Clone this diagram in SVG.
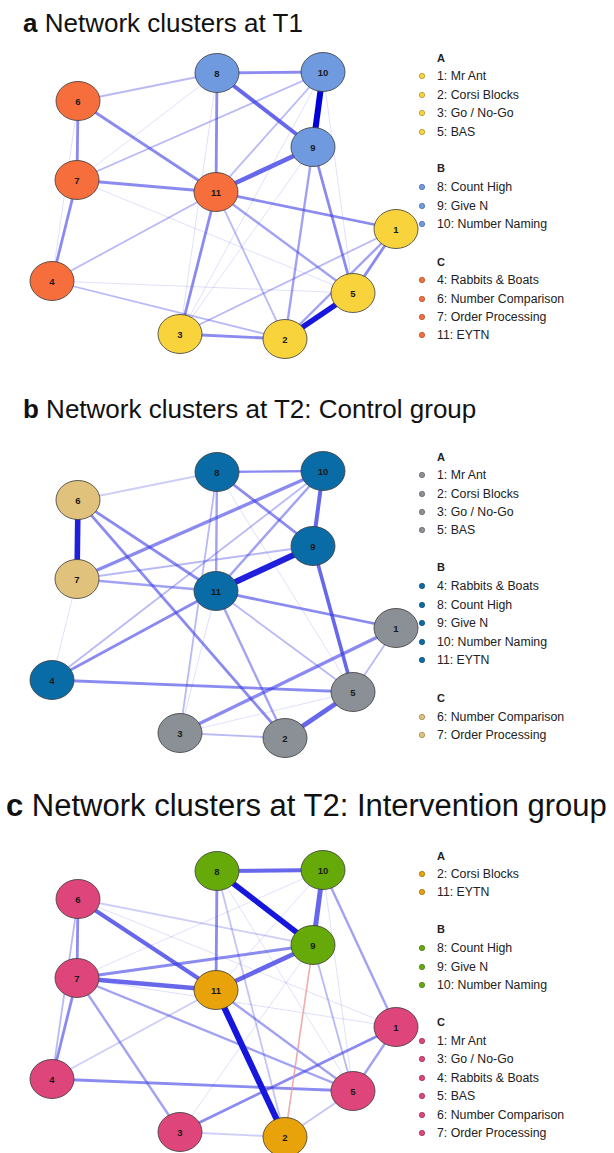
<svg xmlns="http://www.w3.org/2000/svg" width="614" height="1153" viewBox="0 0 614 1153">
<style>
text{font-family:"Liberation Sans",Arial,sans-serif;fill:#111}
.title{font-size:26px}
.lg{font-size:12.3px;fill:#222}
.hd{font-size:11px;font-weight:bold;fill:#222}
.nl{font-size:9.5px;font-weight:bold;text-anchor:middle;fill:#1a1a1a}
ellipse{stroke:#3a3a3a;stroke-width:0.8}
.dot{stroke-width:0.6}
.e line{stroke:#3c3ce6;fill:none}
.e .w1{stroke-width:1;stroke-opacity:.16}
.e .w2{stroke-width:1.8;stroke-opacity:.36}
.e .w2b{stroke-width:2.4;stroke-opacity:.48}
.e .w3{stroke-width:2.8;stroke-opacity:.6}
.e .w4{stroke-width:4;stroke-opacity:.78}
.e .w5{stroke-width:5.6;stroke:#1616dc;stroke-opacity:1}
.e .neg{stroke:#e89898;stroke-width:1.6;stroke-opacity:.8}
.ya{fill:#f9d33c}.ba{fill:#6f9ae0}.oa{fill:#f56e3c}
.gb{fill:#8b9096}.db{fill:#0a6ca6}.tb{fill:#e1c27c}
.gc{fill:#66aa0a}.ac{fill:#e8a20a}.pc{fill:#de457b}
</style>

<!-- Titles -->
<text class="title" x="23" y="32"><tspan font-weight="bold">a</tspan> Network clusters at T1</text>
<text class="title" x="23" y="418"><tspan font-weight="bold">b</tspan> Network clusters at T2: Control group</text>
<text class="title" x="6" y="816" style="font-size:31px"><tspan font-weight="bold">c</tspan> Network clusters at T2: Intervention group</text>

<!-- ===== Panel a ===== -->
<g id="panel-a">
<g id="a-edges" class="e">
<line class="w1" x1="353" y1="293" x2="323" y2="72"/>
<line class="w1" x1="52" y1="281" x2="353" y2="293"/>
<line class="w1" x1="77" y1="180" x2="353" y2="293"/>
<line class="w1" x1="77" y1="180" x2="217" y2="73"/>
<line class="w1" x1="78" y1="101" x2="52" y2="281"/>
<line class="w1" x1="217" y1="73" x2="180" y2="334"/>
<line class="w1" x1="323" y1="72" x2="180" y2="334"/>
<line class="w1" x1="313" y1="147" x2="180" y2="334"/>
<line class="w2" x1="323" y1="72" x2="216" y2="192"/>
<line class="w2" x1="216" y1="192" x2="285" y2="339"/>
<line class="w2" x1="78" y1="101" x2="217" y2="73"/>
<line class="w2" x1="77" y1="180" x2="323" y2="72"/>
<line class="w2" x1="216" y1="192" x2="52" y2="281"/>
<line class="w2" x1="52" y1="281" x2="285" y2="339"/>
<line class="w2" x1="396" y1="229" x2="180" y2="334"/>
<line class="w2b" x1="396" y1="229" x2="285" y2="339"/>
<line class="w2b" x1="313" y1="147" x2="285" y2="339"/>
<line class="w2b" x1="216" y1="192" x2="353" y2="293"/>
<line class="w3" x1="217" y1="73" x2="323" y2="72"/>
<line class="w3" x1="217" y1="73" x2="216" y2="192"/>
<line class="w3" x1="78" y1="101" x2="77" y2="180"/>
<line class="w3" x1="78" y1="101" x2="216" y2="192"/>
<line class="w3" x1="77" y1="180" x2="216" y2="192"/>
<line class="w3" x1="77" y1="180" x2="52" y2="281"/>
<line class="w3" x1="216" y1="192" x2="396" y2="229"/>
<line class="w3" x1="216" y1="192" x2="180" y2="334"/>
<line class="w3" x1="313" y1="147" x2="353" y2="293"/>
<line class="w3" x1="396" y1="229" x2="353" y2="293"/>
<line class="w3" x1="180" y1="334" x2="285" y2="339"/>
<line class="w4" x1="217" y1="73" x2="313" y2="147"/>
<line class="w4" x1="313" y1="147" x2="216" y2="192" style="stroke-width:4.6"/>
<line class="w5" x1="323" y1="72" x2="313" y2="147" style="stroke:#0000d8;stroke-width:6"/>
<line class="w5" x1="353" y1="293" x2="285" y2="339"/>
</g>
<g id="a-n8"><ellipse class="ba" cx="217" cy="73" rx="22" ry="19.5"/><text class="nl" x="217" y="76.5">8</text></g>
<g id="a-n10"><ellipse class="ba" cx="323" cy="72" rx="22" ry="19.5"/><text class="nl" x="323" y="75.5">10</text></g>
<g id="a-n9"><ellipse class="ba" cx="313" cy="147" rx="22" ry="19.5"/><text class="nl" x="313" y="150.5">9</text></g>
<g id="a-n6"><ellipse class="oa" cx="78" cy="101" rx="22" ry="19.5"/><text class="nl" x="78" y="104.5">6</text></g>
<g id="a-n7"><ellipse class="oa" cx="77" cy="180" rx="22" ry="19.5"/><text class="nl" x="77" y="183.5">7</text></g>
<g id="a-n11"><ellipse class="oa" cx="216" cy="192" rx="22" ry="19.5"/><text class="nl" x="216" y="195.5">11</text></g>
<g id="a-n4"><ellipse class="oa" cx="52" cy="281" rx="22" ry="19.5"/><text class="nl" x="52" y="284.5">4</text></g>
<g id="a-n1"><ellipse class="ya" cx="396" cy="229" rx="22" ry="19.5"/><text class="nl" x="396" y="232.5">1</text></g>
<g id="a-n5"><ellipse class="ya" cx="353" cy="293" rx="22" ry="19.5"/><text class="nl" x="353" y="296.5">5</text></g>
<g id="a-n3"><ellipse class="ya" cx="180" cy="334" rx="22" ry="19.5"/><text class="nl" x="180" y="337.5">3</text></g>
<g id="a-n2"><ellipse class="ya" cx="285" cy="339" rx="22" ry="19.5"/><text class="nl" x="285" y="342.5">2</text></g>
<g id="a-legend">
<text class="hd" x="437" y="62">A</text>
<circle class="dot ya" cx="422" cy="76" r="2.7" stroke="#9a8020"/><text class="lg" x="437" y="80.4">1: Mr Ant</text>
<circle class="dot ya" cx="422" cy="95" r="2.7" stroke="#9a8020"/><text class="lg" x="437" y="99.4">2: Corsi Blocks</text>
<circle class="dot ya" cx="422" cy="113" r="2.7" stroke="#9a8020"/><text class="lg" x="437" y="117.4">3: Go / No-Go</text>
<circle class="dot ya" cx="422" cy="132" r="2.7" stroke="#9a8020"/><text class="lg" x="437" y="136.4">5: BAS</text>
<text class="hd" x="437" y="172">B</text>
<circle class="dot ba" cx="422" cy="187" r="2.7" stroke="#3a5a98"/><text class="lg" x="437" y="191.4">8: Count High</text>
<circle class="dot ba" cx="422" cy="206" r="2.7" stroke="#3a5a98"/><text class="lg" x="437" y="210.4">9: Give N</text>
<circle class="dot ba" cx="422" cy="224" r="2.7" stroke="#3a5a98"/><text class="lg" x="437" y="228.4">10: Number Naming</text>
<text class="hd" x="437" y="266">C</text>
<circle class="dot oa" cx="422" cy="280" r="2.7" stroke="#a04020"/><text class="lg" x="437" y="284.4">4: Rabbits &amp; Boats</text>
<circle class="dot oa" cx="422" cy="299" r="2.7" stroke="#a04020"/><text class="lg" x="437" y="303.4">6: Number Comparison</text>
<circle class="dot oa" cx="422" cy="317" r="2.7" stroke="#a04020"/><text class="lg" x="437" y="321.4">7: Order Processing</text>
<circle class="dot oa" cx="422" cy="335" r="2.7" stroke="#a04020"/><text class="lg" x="437" y="339.4">11: EYTN</text>
</g>
</g>

<!-- ===== Panel b ===== -->
<g id="panel-b">
<g id="b-edges" class="e" transform="translate(0,399)">
<line class="w1" x1="217" y1="73" x2="353" y2="293"/>
<line class="w1" x1="180" y1="334" x2="353" y2="293"/>
<line class="w1" x1="77" y1="180" x2="52" y2="281"/>
<line class="w1" x1="216" y1="192" x2="180" y2="334"/>
<line class="w2" x1="78" y1="101" x2="217" y2="73" style="stroke-opacity:.25"/>
<line class="w2" x1="217" y1="73" x2="323" y2="72" style="stroke-opacity:.25"/>
<line class="w2" x1="77" y1="180" x2="313" y2="147"/>
<line class="w2" x1="323" y1="72" x2="52" y2="281"/>
<line class="w2" x1="216" y1="192" x2="353" y2="293"/>
<line class="w2" x1="217" y1="73" x2="180" y2="334"/>
<line class="w2" x1="396" y1="229" x2="353" y2="293"/>
<line class="w2" x1="180" y1="334" x2="285" y2="339"/>
<line class="w2b" x1="216" y1="192" x2="285" y2="339"/>
<line class="w2b" x1="77" y1="180" x2="216" y2="192"/>
<line class="w2b" x1="217" y1="73" x2="323" y2="72"/>
<line class="w2b" x1="217" y1="73" x2="216" y2="192"/>
<line class="w2b" x1="323" y1="72" x2="216" y2="192"/>
<line class="w3" x1="78" y1="101" x2="216" y2="192"/>
<line class="w3" x1="78" y1="101" x2="285" y2="339"/>
<line class="w3" x1="217" y1="73" x2="313" y2="147"/>
<line class="w3" x1="216" y1="192" x2="52" y2="281"/>
<line class="w3" x1="216" y1="192" x2="396" y2="229"/>
<line class="w3" x1="52" y1="281" x2="353" y2="293"/>
<line class="w3" x1="77" y1="180" x2="323" y2="72" style="stroke-width:3.4"/>
<line class="w3" x1="396" y1="229" x2="180" y2="334" style="stroke-width:3.4"/>
<line class="w4" x1="313" y1="147" x2="353" y2="293" style="stroke-width:3.6"/>
<line class="w4" x1="323" y1="72" x2="313" y2="147"/>
<line class="w4" x1="353" y1="293" x2="285" y2="339" style="stroke-width:4.6"/>
<line class="w5" x1="78" y1="101" x2="77" y2="180" style="stroke:#2020dc"/>
<line class="w5" x1="313" y1="147" x2="216" y2="192" style="stroke:#2020dc;stroke-width:6.2"/>
</g>
<g id="b-n8"><ellipse class="db" cx="217" cy="472" rx="22" ry="19.5"/><text class="nl" x="217" y="475.5">8</text></g>
<g id="b-n10"><ellipse class="db" cx="323" cy="471" rx="22" ry="19.5"/><text class="nl" x="323" y="474.5">10</text></g>
<g id="b-n9"><ellipse class="db" cx="313" cy="546" rx="22" ry="19.5"/><text class="nl" x="313" y="549.5">9</text></g>
<g id="b-n6"><ellipse class="tb" cx="78" cy="500" rx="22" ry="19.5"/><text class="nl" x="78" y="503.5">6</text></g>
<g id="b-n7"><ellipse class="tb" cx="77" cy="579" rx="22" ry="19.5"/><text class="nl" x="77" y="582.5">7</text></g>
<g id="b-n11"><ellipse class="db" cx="216" cy="591" rx="22" ry="19.5"/><text class="nl" x="216" y="594.5">11</text></g>
<g id="b-n4"><ellipse class="db" cx="52" cy="680" rx="22" ry="19.5"/><text class="nl" x="52" y="683.5">4</text></g>
<g id="b-n1"><ellipse class="gb" cx="396" cy="628" rx="22" ry="19.5"/><text class="nl" x="396" y="631.5">1</text></g>
<g id="b-n5"><ellipse class="gb" cx="353" cy="692" rx="22" ry="19.5"/><text class="nl" x="353" y="695.5">5</text></g>
<g id="b-n3"><ellipse class="gb" cx="180" cy="733" rx="22" ry="19.5"/><text class="nl" x="180" y="736.5">3</text></g>
<g id="b-n2"><ellipse class="gb" cx="285" cy="738" rx="22" ry="19.5"/><text class="nl" x="285" y="741.5">2</text></g>
<g id="b-legend">
<text class="hd" x="437" y="461">A</text>
<circle class="dot gb" cx="422" cy="475" r="2.7" stroke="#555"/><text class="lg" x="437" y="479.4">1: Mr Ant</text>
<circle class="dot gb" cx="422" cy="494" r="2.7" stroke="#555"/><text class="lg" x="437" y="498.4">2: Corsi Blocks</text>
<circle class="dot gb" cx="422" cy="512" r="2.7" stroke="#555"/><text class="lg" x="437" y="516.4">3: Go / No-Go</text>
<circle class="dot gb" cx="422" cy="530" r="2.7" stroke="#555"/><text class="lg" x="437" y="534.4">5: BAS</text>
<text class="hd" x="437" y="571">B</text>
<circle class="dot db" cx="422" cy="586" r="2.7" stroke="#064060"/><text class="lg" x="437" y="590.4">4: Rabbits &amp; Boats</text>
<circle class="dot db" cx="422" cy="605" r="2.7" stroke="#064060"/><text class="lg" x="437" y="609.4">8: Count High</text>
<circle class="dot db" cx="422" cy="623" r="2.7" stroke="#064060"/><text class="lg" x="437" y="627.4">9: Give N</text>
<circle class="dot db" cx="422" cy="642" r="2.7" stroke="#064060"/><text class="lg" x="437" y="646.4">10: Number Naming</text>
<circle class="dot db" cx="422" cy="660" r="2.7" stroke="#064060"/><text class="lg" x="437" y="664.4">11: EYTN</text>
<text class="hd" x="437" y="702">C</text>
<circle class="dot tb" cx="422" cy="717" r="2.7" stroke="#8a7040"/><text class="lg" x="437" y="721.4">6: Number Comparison</text>
<circle class="dot tb" cx="422" cy="735" r="2.7" stroke="#8a7040"/><text class="lg" x="437" y="739.4">7: Order Processing</text>
</g>
</g>

<!-- ===== Panel c ===== -->
<g id="panel-c">
<g id="c-edges" class="e" transform="translate(0,798)">
<line class="w1" x1="78" y1="101" x2="396" y2="229"/>
<line class="w1" x1="323" y1="72" x2="77" y2="180"/>
<line class="w1" x1="323" y1="72" x2="216" y2="192"/>
<line class="w1" x1="313" y1="147" x2="180" y2="334"/>
<line class="w1" x1="217" y1="73" x2="353" y2="293"/>
<line class="w1" x1="77" y1="180" x2="396" y2="229"/>
<line class="w1" x1="323" y1="72" x2="353" y2="293"/>
<line class="w2" x1="78" y1="101" x2="313" y2="147" style="stroke-opacity:.25"/>
<line class="w2" x1="216" y1="192" x2="52" y2="281" style="stroke-opacity:.25"/>
<line class="w2" x1="180" y1="334" x2="285" y2="339" style="stroke-opacity:.25"/>
<line class="w2" x1="353" y1="293" x2="285" y2="339" style="stroke-opacity:.3"/>
<line class="w2" x1="217" y1="73" x2="285" y2="339" style="stroke-opacity:.3"/>
<line class="w2" x1="78" y1="101" x2="52" y2="281"/>
<line class="w2" x1="313" y1="147" x2="353" y2="293"/>
<line class="w2b" x1="77" y1="180" x2="180" y2="334"/>
<line class="w2b" x1="77" y1="180" x2="353" y2="293"/>
<line class="w2b" x1="216" y1="192" x2="353" y2="293"/>
<line class="w2b" x1="396" y1="229" x2="353" y2="293"/>
<line class="w2b" x1="323" y1="72" x2="396" y2="229"/>
<line class="w3" x1="217" y1="73" x2="216" y2="192"/>
<line class="w3" x1="78" y1="101" x2="77" y2="180"/>
<line class="w3" x1="77" y1="180" x2="313" y2="147"/>
<line class="w3" x1="77" y1="180" x2="52" y2="281"/>
<line class="w3" x1="52" y1="281" x2="353" y2="293"/>
<line class="w3" x1="396" y1="229" x2="180" y2="334"/>
<line class="neg" x1="313" y1="147" x2="285" y2="339"/>
<line class="w4" x1="78" y1="101" x2="216" y2="192"/>
<line class="w4" x1="217" y1="73" x2="323" y2="72"/>
<line class="w4" x1="313" y1="147" x2="216" y2="192" style="stroke-width:4.6"/>
<line class="w4" x1="77" y1="180" x2="216" y2="192" style="stroke-width:4.6"/>
<line class="w4" x1="323" y1="72" x2="313" y2="147" style="stroke-width:5"/>
<line class="w5" x1="217" y1="73" x2="313" y2="147"/>
<line class="w5" x1="216" y1="192" x2="285" y2="339" style="stroke-width:6.2"/>
</g>
<g id="c-n8"><ellipse class="gc" cx="217" cy="871" rx="22" ry="19.5"/><text class="nl" x="217" y="874.5">8</text></g>
<g id="c-n10"><ellipse class="gc" cx="323" cy="870" rx="22" ry="19.5"/><text class="nl" x="323" y="873.5">10</text></g>
<g id="c-n9"><ellipse class="gc" cx="313" cy="945" rx="22" ry="19.5"/><text class="nl" x="313" y="948.5">9</text></g>
<g id="c-n6"><ellipse class="pc" cx="78" cy="899" rx="22" ry="19.5"/><text class="nl" x="78" y="902.5">6</text></g>
<g id="c-n7"><ellipse class="pc" cx="77" cy="978" rx="22" ry="19.5"/><text class="nl" x="77" y="981.5">7</text></g>
<g id="c-n11"><ellipse class="ac" cx="216" cy="990" rx="22" ry="19.5"/><text class="nl" x="216" y="993.5">11</text></g>
<g id="c-n4"><ellipse class="pc" cx="52" cy="1079" rx="22" ry="19.5"/><text class="nl" x="52" y="1082.5">4</text></g>
<g id="c-n1"><ellipse class="pc" cx="396" cy="1027" rx="22" ry="19.5"/><text class="nl" x="396" y="1030.5">1</text></g>
<g id="c-n5"><ellipse class="pc" cx="353" cy="1091" rx="22" ry="19.5"/><text class="nl" x="353" y="1094.5">5</text></g>
<g id="c-n3"><ellipse class="pc" cx="180" cy="1132" rx="22" ry="19.5"/><text class="nl" x="180" y="1135.5">3</text></g>
<g id="c-n2"><ellipse class="ac" cx="285" cy="1137" rx="22" ry="19.5"/><text class="nl" x="285" y="1140.5">2</text></g>
<g id="c-legend">
<text class="hd" x="437" y="860">A</text>
<circle class="dot ac" cx="422" cy="874" r="2.7" stroke="#8a6008"/><text class="lg" x="437" y="878.4">2: Corsi Blocks</text>
<circle class="dot ac" cx="422" cy="892" r="2.7" stroke="#8a6008"/><text class="lg" x="437" y="896.4">11: EYTN</text>
<text class="hd" x="437" y="933">B</text>
<circle class="dot gc" cx="422" cy="948" r="2.7" stroke="#3a6a08"/><text class="lg" x="437" y="952.4">8: Count High</text>
<circle class="dot gc" cx="422" cy="967" r="2.7" stroke="#3a6a08"/><text class="lg" x="437" y="971.4">9: Give N</text>
<circle class="dot gc" cx="422" cy="985" r="2.7" stroke="#3a6a08"/><text class="lg" x="437" y="989.4">10: Number Naming</text>
<text class="hd" x="437" y="1026">C</text>
<circle class="dot pc" cx="422" cy="1041" r="2.7" stroke="#8a2048"/><text class="lg" x="437" y="1045.4">1: Mr Ant</text>
<circle class="dot pc" cx="422" cy="1059" r="2.7" stroke="#8a2048"/><text class="lg" x="437" y="1063.4">3: Go / No-Go</text>
<circle class="dot pc" cx="422" cy="1078" r="2.7" stroke="#8a2048"/><text class="lg" x="437" y="1082.4">4: Rabbits &amp; Boats</text>
<circle class="dot pc" cx="422" cy="1096" r="2.7" stroke="#8a2048"/><text class="lg" x="437" y="1100.4">5: BAS</text>
<circle class="dot pc" cx="422" cy="1115" r="2.7" stroke="#8a2048"/><text class="lg" x="437" y="1119.4">6: Number Comparison</text>
<circle class="dot pc" cx="422" cy="1133" r="2.7" stroke="#8a2048"/><text class="lg" x="437" y="1137.4">7: Order Processing</text>
</g>
</g>
</svg>
